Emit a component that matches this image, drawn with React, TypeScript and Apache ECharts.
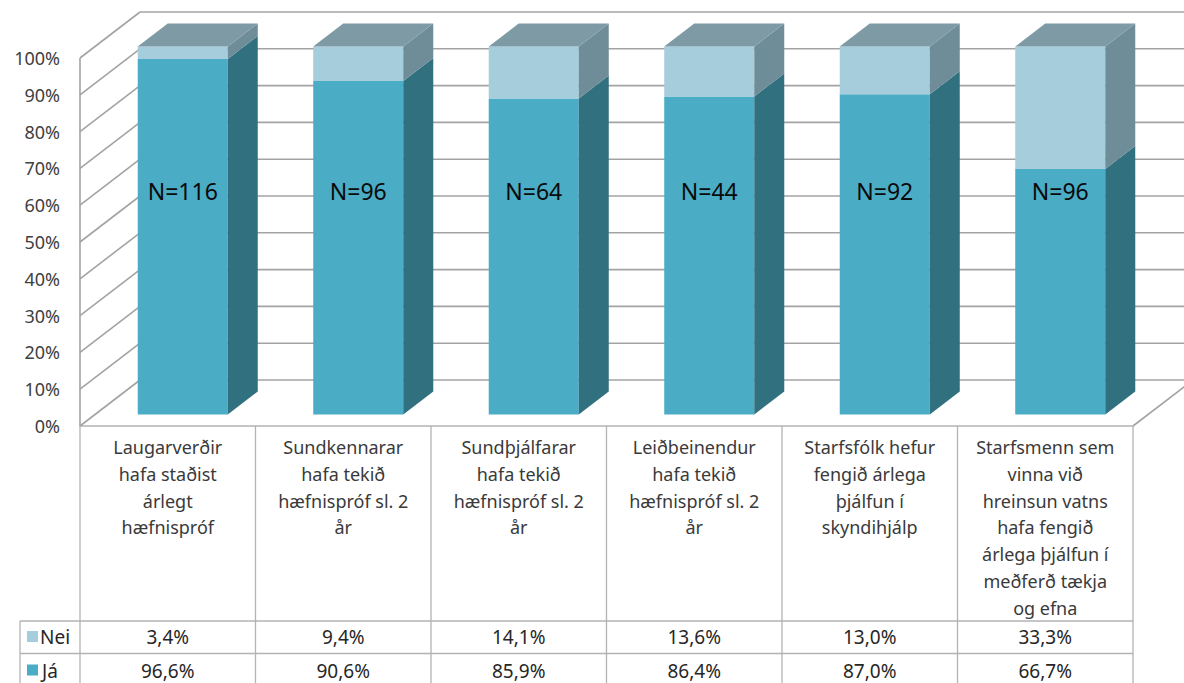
import React, { useEffect, useRef } from "react";
import * as echarts from "echarts";

const categories = [
  "Laugarverðir\nhafa staðist\nárlegt\nhæfnispróf",
  "Sundkennarar\nhafa tekið\nhæfnispróf sl. 2\når",
  "Sundþjálfarar\nhafa tekið\nhæfnispróf sl. 2\når",
  "Leiðbeinendur\nhafa tekið\nhæfnispróf sl. 2\når",
  "Starfsfólk hefur\nfengið árlega\nþjálfun í\nskyndihjálp",
  "Starfsmenn sem\nvinna við\nhreinsun vatns\nhafa fengið\nárlega þjálfun í\nmeðferð tækja\nog efna",
];
const jaValues = [96.6, 90.6, 85.9, 86.4, 87.0, 66.7];
const neiValues = [3.4, 9.4, 14.1, 13.6, 13.0, 33.3];
const nLabels = ["N=116", "N=96", "N=64", "N=44", "N=92", "N=96"];
const yTicks = [0, 10, 20, 30, 40, 50, 60, 70, 80, 90, 100];
const seriesNames = ["Nei", "Já"];

const FONT = "'Noto Sans', 'Open Sans', sans-serif";
const JA_FRONT = "#4BACC6";
const JA_SIDE = "#31707F";
const NEI_FRONT = "#A5CDDB";
const NEI_SIDE = "#6F8D98";
const TOP = "#7E9AA5";
const GRID_LINE = "#a3a3a3";
const TABLE_LINE = "#b3b3b3";
const DEPTH = [60, -46];

const fmt = (v: number) => v.toFixed(1).replace(".", ",") + "%";

export default function App() {
  const ref = useRef<HTMLDivElement>(null);
  useEffect(() => {
    document.body.style.margin = "0";
    const chart = echarts.init(ref.current!, undefined, { renderer: "svg" });

    const wallItem = (params: any, api: any) => {
      const cs = params.coordSys;
      const v = api.value(0);
      const y = api.coord([0, v])[1];
      const x0 = cs.x;
      const ls = { stroke: GRID_LINE, lineWidth: 1.6 };
      const children: any[] = [
        { type: "line", shape: { x1: x0, y1: y, x2: x0 + DEPTH[0], y2: y + DEPTH[1] }, style: ls },
        {
          type: "line",
          shape: { x1: x0 + DEPTH[0], y1: y + DEPTH[1], x2: x0 + cs.width + DEPTH[0] + 20, y2: y + DEPTH[1] },
          style: ls,
        },
      ];
      if (v === 0) {
        children.push({
          type: "line",
          shape: { x1: x0 + cs.width, y1: y, x2: x0 + cs.width + DEPTH[0], y2: y + DEPTH[1] },
          style: ls,
        });
      }
      if (v === 100) {
        const y0 = api.coord([0, 0])[1];
        children.push({ type: "line", shape: { x1: x0, y1: y, x2: x0, y2: y0 }, style: ls });
      }
      return { type: "group", children };
    };

    const barItem = (params: any, api: any) => {
      const i = api.value(0);
      const ja = api.value(1);
      const nei = api.value(2);
      const base = api.coord([i, 0]);
      const bw = api.size([1, 0])[0] * 0.513;
      const fz = 0.25, bz = 0.75;
      const fx = DEPTH[0] * fz, fy = DEPTH[1] * fz;
      const dx = DEPTH[0] * (bz - fz), dy = DEPTH[1] * (bz - fz);
      const xl = base[0] - bw / 2 + fx;
      const xr = xl + bw;
      const y0 = base[1] + fy;
      const y1 = api.coord([i, ja])[1] + fy;
      const y2 = api.coord([i, ja + nei])[1] + fy;
      const yl = api.coord([i, 60.7])[1] + fy;
      return {
        type: "group",
        children: [
          { type: "rect", shape: { x: xl, y: y1, width: bw, height: y0 - y1 }, style: { fill: JA_FRONT } },
          {
            type: "polygon",
            shape: { points: [[xr, y0], [xr + dx, y0 + dy], [xr + dx, y1 + dy], [xr, y1]] },
            style: { fill: JA_SIDE },
          },
          { type: "rect", shape: { x: xl, y: y2, width: bw, height: y1 - y2 }, style: { fill: NEI_FRONT } },
          {
            type: "polygon",
            shape: { points: [[xr, y1], [xr + dx, y1 + dy], [xr + dx, y2 + dy], [xr, y2]] },
            style: { fill: NEI_SIDE },
          },
          {
            type: "polygon",
            shape: { points: [[xl, y2], [xr, y2], [xr + dx, y2 + dy], [xl + dx, y2 + dy]] },
            style: { fill: TOP },
          },
          {
            type: "text",
            style: {
              text: nLabels[params.dataIndex],
              x: xl + bw / 2,
              y: yl,
              align: "center",
              verticalAlign: "middle",
              font: `23px ${FONT}`,
              fill: "#0a0a0a",
            },
          },
        ],
      };
    };

    const tableItem = (params: any, api: any) => {
      const i = api.value(0);
      const nei = api.value(1);
      const ja = api.value(2);
      const c = api.coord([i, 0]);
      const w = api.size([1, 0])[0];
      const xl = c[0] - w / 2;
      const xr = c[0] + w / 2;
      const top = c[1];
      const rowA = top + 195;
      const rowB = rowA + 32.5;
      const bottom = rowB + 40;
      const ls = { stroke: TABLE_LINE, lineWidth: 1.3 };
      const txt = (t: string, x: number, y: number, align = "center") => ({
        type: "text",
        style: { text: t, x, y, align, verticalAlign: "middle", font: `19px ${FONT}`, fill: "#262626" },
      });
      const children: any[] = [
        { type: "line", shape: { x1: xr, y1: top, x2: xr, y2: bottom }, style: ls },
        { type: "line", shape: { x1: xl, y1: rowA, x2: xr, y2: rowA }, style: ls },
        { type: "line", shape: { x1: xl, y1: rowB, x2: xr, y2: rowB }, style: ls },
        txt(fmt(nei), c[0], rowA + 16),
        txt(fmt(ja), c[0], rowB + 17),
      ];
      if (params.dataIndex === 0) {
        const lx = xl - 60;
        children.push(
          { type: "line", shape: { x1: xl, y1: top, x2: xl, y2: bottom }, style: ls },
          { type: "line", shape: { x1: lx, y1: rowA, x2: xl, y2: rowA }, style: ls },
          { type: "line", shape: { x1: lx, y1: rowB, x2: xl, y2: rowB }, style: ls },
          { type: "line", shape: { x1: lx, y1: rowA, x2: lx, y2: bottom }, style: ls },
          { type: "rect", shape: { x: lx + 7, y: rowA + 10, width: 11, height: 11 }, style: { fill: NEI_FRONT } },
          { type: "rect", shape: { x: lx + 7, y: rowB + 11, width: 11, height: 11 }, style: { fill: JA_FRONT } },
          txt(seriesNames[0], lx + 20, rowA + 16, "left"),
          txt(seriesNames[1], lx + 22, rowB + 17, "left")
        );
      }
      return { type: "group", children };
    };

    chart.setOption({
      animation: false,
      backgroundColor: "#ffffff",
      grid: { left: 80, right: 51, top: 58, bottom: 257, containLabel: false },
      xAxis: {
        type: "category",
        data: categories,
        axisTick: { show: false },
        axisLine: { show: true, lineStyle: { color: TABLE_LINE, width: 1.5 } },
        axisLabel: {
          interval: 0,
          margin: 8,
          fontSize: 18,
          lineHeight: 26.7,
          color: "#3a3a3a",
          fontFamily: FONT,
          align: "center",
        },
        splitLine: { show: false },
      },
      yAxis: {
        type: "value",
        min: 0,
        max: 100,
        interval: 10,
        axisLine: { show: false },
        axisTick: { show: false },
        splitLine: { show: false },
        axisLabel: { formatter: "{value}%", fontSize: 18, color: "#404040", fontFamily: FONT, margin: 20 },
      },
      series: [
        {
          type: "custom",
          name: "walls",
          z: 1,
          clip: false,
          renderItem: wallItem,
          data: yTicks.map((t) => [t]),
          encode: { y: 0 },
          silent: true,
        },
        {
          type: "custom",
          name: "bars",
          z: 3,
          clip: false,
          renderItem: barItem,
          data: categories.map((_, i) => [i, jaValues[i], neiValues[i]]),
          encode: { x: 0, y: 1 },
        },
        {
          type: "custom",
          name: "table",
          z: 2,
          clip: false,
          renderItem: tableItem,
          data: categories.map((_, i) => [i, neiValues[i], jaValues[i]]),
          encode: { x: 0 },
        },
      ],
    });
    return () => chart.dispose();
  }, []);
  return <div ref={ref} style={{ width: 1184, height: 683 }} />;
}
